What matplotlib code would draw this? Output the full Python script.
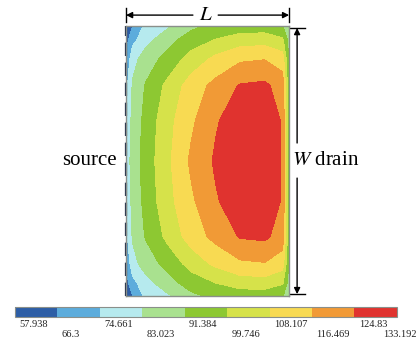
"""Temperature contour of a source/drain channel with a discrete colour bar."""
import numpy as np
import matplotlib

matplotlib.use("Agg")
import matplotlib.pyplot as plt

plt.rcParams["font.family"] = ["Liberation Serif", "DejaVu Serif"]
plt.rcParams["mathtext.fontset"] = "stix"

# contour levels shown on the colour bar
levels = [57.938, 66.3, 74.661, 83.023, 91.384, 99.746, 108.107, 116.469, 124.83, 133.192]
band_colors = ["#2d5ea6", "#5cacdc", "#b6eaee", "#a9e18f", "#8dc832",
               "#d6e24a", "#f8da52", "#f19a36", "#e0332f"]

# sample positions across the channel (fraction of L and W)
x_nodes = [0.0, 0.04, 0.12, 0.25, 0.40, 0.55, 0.70, 0.85, 0.96, 1.0]
y_nodes = [0.0, 0.05, 0.12, 0.22, 0.35, 0.50, 0.65, 0.78, 0.88, 0.95, 1.0]

# values, one row per y node
temp_rows = [
    [58, 66, 77, 81.5, 89.5, 93.5, 95, 95, 92, 84],
    [63, 72, 80, 88, 95.5, 100, 104, 104.5, 101, 88],
    [67, 80, 87, 94, 103, 110, 115, 116, 112, 90],
    [72, 84, 92, 101.5, 112, 119, 125.5, 126.5, 121, 92],
    [76, 85.5, 94, 105, 115, 124, 129.5, 130.5, 124, 93],
    [78, 86.5, 95, 106, 118, 126, 131, 132, 124, 93],
    [76, 85.5, 94, 105, 115, 124, 129.5, 130.5, 124, 93],
    [72, 84, 92, 101.5, 112, 119, 125.5, 126.5, 121, 92],
    [67, 80, 87, 94, 103, 110, 115, 116, 112, 90],
    [63, 72, 80, 88, 95.5, 100, 104, 104.5, 101, 88],
    [58, 66, 77, 81.5, 89.5, 93.5, 95, 95, 92, 84],
]

fig = plt.figure(figsize=(4.16, 3.42), dpi=100, facecolor="white")
ax = fig.add_axes([0.303, 0.1345, 0.392, 0.789])
cax = fig.add_axes([0.036, 0.073, 0.918, 0.029])

T = np.array(temp_rows)
cs = ax.contourf(x_nodes, y_nodes, T, levels=levels, colors=band_colors)
ax.set_xlim(0, 1)
ax.set_ylim(0, 1)
ax.set_xticks([])
ax.set_yticks([])
for sp in ax.spines.values():
    sp.set_color("#8a8f8a")
    sp.set_linewidth(1.0)
# source contact on the left edge
ax.plot([0, 0], [0, 1], color="#1d2b45", lw=1.6, dashes=(6, 3), clip_on=False)

# L dimension arrow
arr = dict(arrowstyle="-|>", color="black", lw=1.0, mutation_scale=9, shrinkA=0, shrinkB=0)
ya = 1.041
ax.annotate("", xy=(0.0, ya), xytext=(0.41, ya), xycoords="axes fraction", arrowprops=arr)
ax.annotate("", xy=(1.0, ya), xytext=(0.565, ya), xycoords="axes fraction", arrowprops=arr)
for xb in (0.0, 1.0):
    ax.plot([xb, xb], [1.015, 1.067], color="black", lw=1.0, transform=ax.transAxes, clip_on=False)
ax.text(0.49, ya, "$L$", transform=ax.transAxes, ha="center", va="center", fontsize=15)

# W dimension arrow
xa = 1.049
ax.annotate("", xy=(xa, 0.993), xytext=(xa, 0.567), xycoords="axes fraction", arrowprops=arr)
ax.annotate("", xy=(xa, 0.007), xytext=(xa, 0.437), xycoords="axes fraction", arrowprops=arr)
for yb in (0.993, 0.007):
    ax.plot([1.006, 1.098], [yb, yb], color="black", lw=1.0, transform=ax.transAxes, clip_on=False)
ax.text(1.018, 0.504, "$W$ drain", transform=ax.transAxes, ha="left", va="center", fontsize=15)
ax.text(-0.055, 0.504, "source", transform=ax.transAxes, ha="right", va="center", fontsize=15)

# colour bar with staggered labels
cb = fig.colorbar(cs, cax=cax, orientation="horizontal")
cb.set_ticks([])
cb.outline.set_edgecolor("#8a8f8a")
cb.outline.set_linewidth(0.8)
step = levels[1] - levels[0]
for i, lv in enumerate(levels):
    yl = -0.8 if i % 2 == 0 else -1.8
    xl = lv + 0.1 * step if i < len(levels) - 1 else lv - 0.33 * step
    cax.text(xl, yl, f"{lv:g}", transform=cax.get_xaxis_transform(), ha="left", va="center",
             fontsize=7.5, color="#222222", clip_on=False)

fig.savefig("out.png", dpi=100, facecolor="white")
